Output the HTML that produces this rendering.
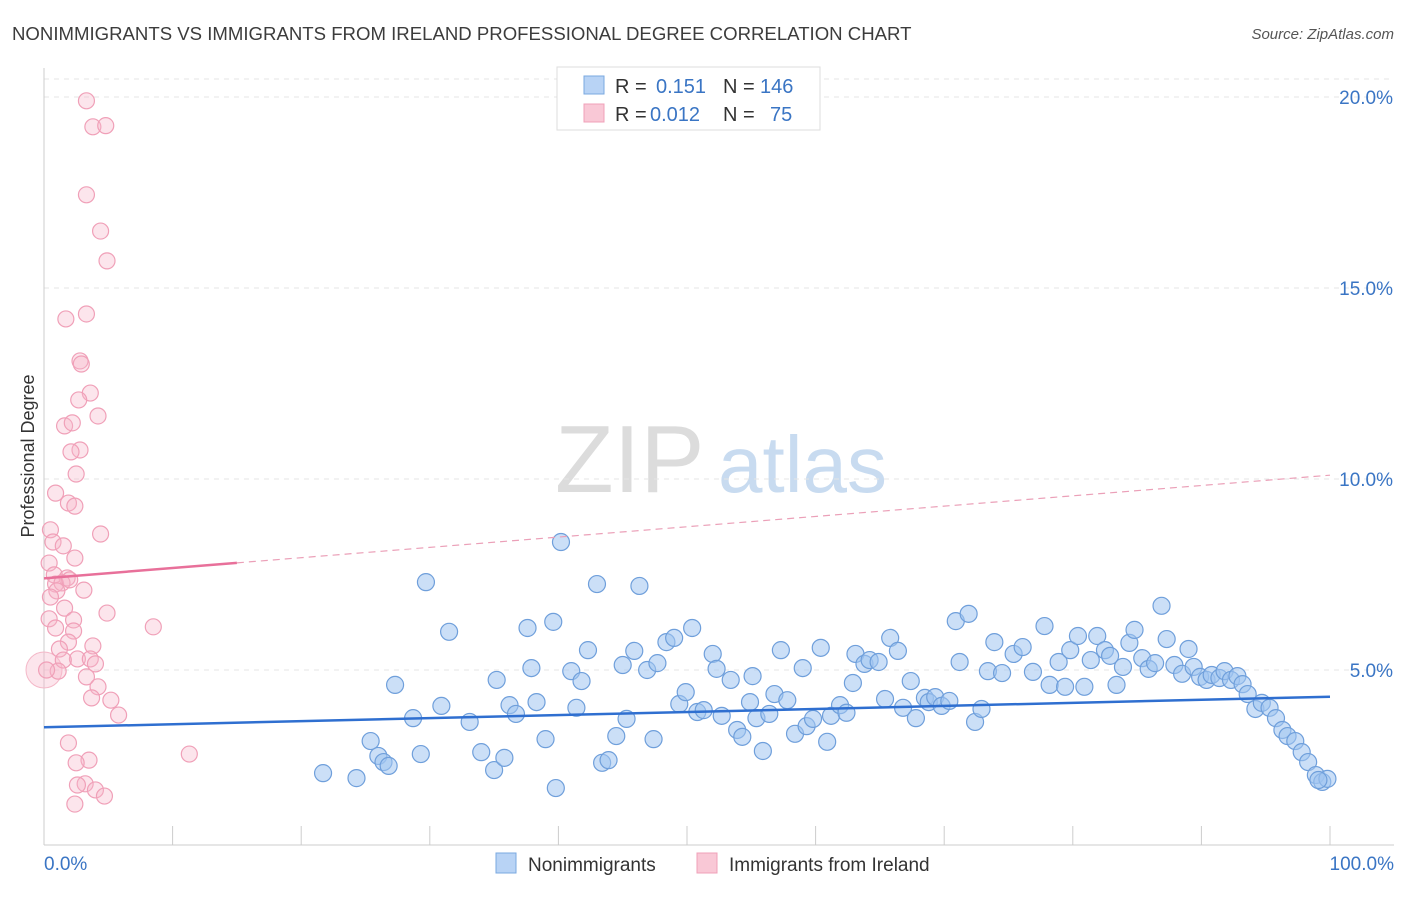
<!DOCTYPE html>
<html><head><meta charset="utf-8"><style>
body{margin:0;background:#fff;font-family:"Liberation Sans",sans-serif}
svg text{font-family:"Liberation Sans",sans-serif}
</style></head><body>
<svg id="chart" width="1406" height="892" viewBox="0 0 1406 892">
<text x="12" y="40" font-size="18.6" fill="#3c3c3c">NONIMMIGRANTS VS IMMIGRANTS FROM IRELAND PROFESSIONAL DEGREE CORRELATION CHART</text>
<text x="1394" y="39" font-size="15" fill="#555" font-style="italic" text-anchor="end">Source: ZipAtlas.com</text>
<g>
<text x="555" y="492" font-size="96" fill="#dcdcdc" font-family="Liberation Serif">ZIP</text>
<text x="718" y="492" font-size="80" fill="#c8dbf0">atlas</text>
</g>
<g id="grid"></g>
<g id="axes"></g>
<g id="pts"></g>
<g id="trend"></g>
<text transform="translate(34,456) rotate(-90)" font-size="18" fill="#333" text-anchor="middle">Professional Degree</text>
<g>
<rect x="557" y="67" width="263" height="63" fill="#fff" stroke="#ddd"/>
<rect x="584" y="76" width="20" height="18" fill="#b8d3f5" stroke="#7aa8e0"/>
<rect x="584" y="104" width="20" height="18" fill="#f9c8d6" stroke="#f0a0b8"/>
<text x="615" y="93" font-size="20" fill="#333">R =</text>
<text x="656" y="93" font-size="20" fill="#3a75c4">0.151</text>
<text x="723" y="93" font-size="20" fill="#333">N =</text>
<text x="760" y="93" font-size="20" fill="#3a75c4">146</text>
<text x="615" y="121" font-size="20" fill="#333">R =</text>
<text x="650" y="121" font-size="20" fill="#3a75c4">0.012</text>
<text x="723" y="121" font-size="20" fill="#333">N =</text>
<text x="770" y="121" font-size="20" fill="#3a75c4">75</text>
</g>
<g>
<rect x="496" y="853" width="20" height="20" fill="#b8d3f5" stroke="#7aa8e0"/>
<text x="528" y="871" font-size="19" fill="#333">Nonimmigrants</text>
<rect x="697" y="853" width="20" height="20" fill="#f9c8d6" stroke="#f0a0b8"/>
<text x="729" y="871" font-size="19" fill="#333">Immigrants from Ireland</text>
</g>
</svg>
<script>
const blueX=[21.7,24.3,25.4,26.0,26.4,26.8,27.3,28.7,29.3,29.7,30.9,31.5,33.1,34.0,35.0,35.2,35.8,36.2,36.7,37.6,37.9,38.3,39.0,39.6,39.8,40.2,41.0,41.4,41.8,42.3,43.0,43.4,43.9,44.5,45.0,45.3,45.9,46.3,46.9,47.4,47.7,48.4,49.0,49.4,49.9,50.4,50.8,51.3,52.0,52.3,52.7,53.4,53.9,54.3,54.9,55.1,55.4,55.9,56.4,56.8,57.3,57.8,58.4,59.0,59.3,59.8,60.4,60.9,61.2,61.9,62.4,62.9,63.1,63.8,64.2,64.9,65.4,65.8,66.4,66.8,67.4,67.8,68.5,68.8,69.3,69.8,70.4,70.9,71.2,71.9,72.4,72.9,73.4,73.9,74.5,75.4,76.1,76.9,77.8,78.2,78.9,79.4,79.8,80.4,80.9,81.4,81.9,82.5,82.9,83.4,83.9,84.4,84.8,85.4,85.9,86.4,86.9,87.3,87.9,88.5,89.0,89.4,89.9,90.4,90.8,91.4,91.8,92.3,92.8,93.2,93.6,94.2,94.7,95.3,95.8,96.3,96.7,97.3,97.8,98.3,98.9,99.4,99.8,99.1];
const blueY=[2.30,2.17,3.14,2.75,2.59,2.49,4.61,3.74,2.80,7.30,4.06,6.00,3.64,2.85,2.38,4.74,2.70,4.08,3.85,6.10,5.05,4.16,3.19,6.26,1.91,8.35,4.97,4.01,4.71,5.52,7.25,2.57,2.64,3.27,5.13,3.72,5.50,7.20,5.00,3.19,5.18,5.73,5.84,4.11,4.42,6.10,3.90,3.95,5.42,5.03,3.80,4.74,3.43,3.25,4.16,4.84,3.74,2.88,3.85,4.37,5.52,4.21,3.33,5.05,3.53,3.72,5.58,3.12,3.80,4.08,3.88,4.66,5.42,5.16,5.26,5.21,4.24,5.84,5.50,4.01,4.71,3.74,4.27,4.16,4.29,4.06,4.19,6.28,5.21,6.47,3.64,3.98,4.97,5.73,4.92,5.42,5.60,4.95,6.15,4.61,5.21,4.56,5.52,5.89,4.56,5.26,5.89,5.52,5.37,4.61,5.08,5.71,6.05,5.31,5.03,5.18,6.68,5.81,5.13,4.90,5.55,5.08,4.82,4.74,4.87,4.79,4.97,4.74,4.84,4.63,4.37,3.98,4.14,4.01,3.74,3.43,3.27,3.14,2.85,2.59,2.25,2.07,2.15,2.12];
const pinkX=[3.3,3.8,4.8,3.3,4.4,4.9,1.7,3.3,2.8,2.9,3.6,2.7,4.2,1.6,2.2,2.8,2.1,2.5,0.9,1.9,2.4,0.5,4.4,0.7,1.5,2.4,0.4,0.8,1.8,0.9,1.4,2.0,1.0,3.1,0.5,1.6,4.9,2.3,0.4,0.9,8.5,2.3,1.9,3.8,1.2,2.6,3.6,1.5,4.0,1.1,0.2,3.3,4.2,3.7,5.2,5.8,1.9,3.5,2.5,11.3,3.2,2.6,4.0,4.7,2.4];
const pinkY=[19.90,19.22,19.25,17.44,16.49,15.71,14.19,14.32,13.09,13.01,12.25,12.07,11.65,11.39,11.47,10.76,10.71,10.13,9.63,9.37,9.29,8.67,8.56,8.35,8.25,7.93,7.80,7.49,7.41,7.25,7.28,7.36,7.07,7.09,6.91,6.62,6.49,6.31,6.34,6.10,6.13,6.02,5.73,5.63,5.55,5.29,5.29,5.26,5.16,4.97,5.00,4.82,4.56,4.27,4.21,3.82,3.09,2.64,2.57,2.80,2.02,1.99,1.86,1.70,1.49];
const yTicks=[5,10,15,20];
const yTickLabels=["5.0%","10.0%","15.0%","20.0%"];
const blueTrend=[3.5,4.3];
const pinkTrend=[7.4,10.1];
const NS="http://www.w3.org/2000/svg";
const X=v=>44+v*12.86, Y=v=>861-v*38.2;
function mk(p,t,a){const e=document.createElementNS(NS,t);for(const k in a)e.setAttribute(k,a[k]);p.appendChild(e);return e;}
const grid=document.getElementById('grid'),axes=document.getElementById('axes'),pts=document.getElementById('pts'),tr=document.getElementById('trend');
let gl=mk(grid,'line',{x1:44,x2:1394,y1:79,y2:79,stroke:'#e4e4e4','stroke-dasharray':'5,5'});

yTicks.forEach((t,i)=>{
 const l=mk(grid,'line',{x1:44,x2:1394,y1:Y(t),y2:Y(t),stroke:'#e4e4e4','stroke-dasharray':'5,5'});
 
 
 const tx=mk(axes,'text',{x:1393,y:Y(t)+7,'font-size':19,fill:'#3a75c4','text-anchor':'end'});
 tx.textContent=yTickLabels[i];
 
 
});
let ax=mk(axes,'line',{x1:44,x2:44,y1:68,y2:845,stroke:'#ccc'});

let bx=mk(axes,'line',{x1:44,x2:1394,y1:845,y2:845,stroke:'#ccc'});

for(let i=0;i<=10;i++){const t=mk(axes,'line',{x1:X(i*10),x2:X(i*10),y1:826,y2:845,stroke:'#ccc'});
 
 }
let l0=mk(axes,'text',{x:44,y:870,'font-size':19,fill:'#3a75c4'});l0.textContent='0.0%';

let l1=mk(axes,'text',{x:1394,y:870,'font-size':19,fill:'#3a75c4','text-anchor':'end'});l1.textContent='100.0%';

let big=mk(pts,'circle',{cx:X(0),cy:Y(5),r:18,fill:'rgba(246,180,200,0.35)',stroke:'#f4b8c8'});

pinkX.forEach((x,i)=>{const c=mk(pts,'circle',{cx:X(x),cy:Y(pinkY[i]),r:8,fill:'rgba(246,180,200,0.35)',stroke:'#f0a0b8','stroke-width':1.2});
 
 });
blueX.forEach((x,i)=>{const c=mk(pts,'circle',{cx:X(x),cy:Y(blueY[i]),r:8.5,fill:'rgba(160,196,240,0.55)',stroke:'#6f9fdb','stroke-width':1.2});
 
 });
let bt=mk(tr,'line',{x1:X(0),y1:Y(blueTrend[0]),x2:X(100),y2:Y(blueTrend[1]),stroke:'#2f6fd0','stroke-width':2.5});

const pAt=v=>pinkTrend[0]+(pinkTrend[1]-pinkTrend[0])*v/100;
let pt=mk(tr,'line',{x1:X(0),y1:Y(pAt(0)),x2:X(15),y2:Y(pAt(15)),stroke:'#e8709a','stroke-width':2.5});

let pd=mk(tr,'line',{x1:X(15),y1:Y(pAt(15)),x2:X(100),y2:Y(pAt(100)),stroke:'#eba0b8','stroke-width':1.2,'stroke-dasharray':'7,5'});

</script>
</body></html>
